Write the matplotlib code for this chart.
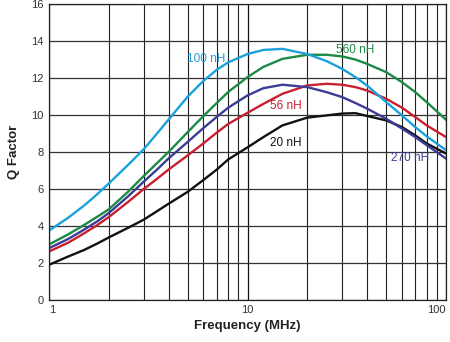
import matplotlib.pyplot as plt
from matplotlib.ticker import FixedLocator, NullFormatter

plt.rcParams['font.family'] = ['Liberation Sans', 'DejaVu Sans']

freq = [1, 1.25, 1.5, 1.75, 2, 2.5, 3, 3.5, 4, 5, 6, 7, 8, 10, 12, 15,
        20, 25, 30, 35, 40, 50, 60, 70, 80, 100]
q_100nh = [3.75, 4.45, 5.1, 5.72, 6.3, 7.3, 8.15, 9.0, 9.75, 11.0, 11.85, 12.45, 12.85, 13.3, 13.52, 13.58,
           13.3, 12.92, 12.5, 12.05, 11.6, 10.7, 9.98, 9.35, 8.85, 8.1]
q_560nh = [3.0, 3.55, 4.05, 4.5, 4.9, 5.85, 6.7, 7.4, 8.0, 9.08, 9.95, 10.65, 11.25, 12.05, 12.6, 13.04,
           13.26, 13.26, 13.17, 13.0, 12.77, 12.32, 11.78, 11.24, 10.7, 9.75]
q_270nh = [2.8, 3.3, 3.8, 4.25, 4.7, 5.6, 6.4, 7.05, 7.65, 8.55, 9.3, 9.9, 10.4, 11.06, 11.45, 11.64,
           11.51, 11.24, 10.97, 10.65, 10.35, 9.8, 9.27, 8.81, 8.37, 7.65]
q_56nh = [2.62, 3.1, 3.6, 4.05, 4.48, 5.3, 6.0, 6.55, 7.05, 7.82, 8.47, 9.05, 9.52, 10.12, 10.6, 11.15,
          11.6, 11.69, 11.64, 11.51, 11.33, 10.88, 10.4, 9.89, 9.44, 8.81]
q_20nh = [1.9, 2.35, 2.7, 3.05, 3.38, 3.9, 4.34, 4.8, 5.2, 5.85, 6.49, 7.05, 7.6, 8.25, 8.8, 9.44,
          9.86, 9.98, 10.08, 10.1, 9.95, 9.71, 9.35, 8.9, 8.46, 7.92]

fig = plt.figure(figsize=(4.5, 3.42), dpi=100)
ax = fig.add_axes([0.109, 0.123, 0.882, 0.865])

ax.set_xscale('log')
ax.set_xlim(1, 100)
ax.set_ylim(0, 16)
ax.set_yticks(range(0, 17, 2))
ax.set_xticks([1, 10, 100])
xl = ax.set_xticklabels(['1', '10', '100'])
xl[0].set_ha('left')
xl[-1].set_ha('right')
minors = [m * d for d in (1, 10) for m in range(2, 10)]
ax.xaxis.set_minor_locator(FixedLocator(minors))
ax.xaxis.set_minor_formatter(NullFormatter())
ax.tick_params(which='both', length=0, labelsize=8, colors='#333333', pad=4)

ax.grid(True, which='major', axis='x', color='#111111', lw=0.9)
ax.grid(True, which='minor', axis='x', color='#222222', lw=0.8)
ax.grid(True, which='major', axis='y', color='#333333', lw=0.9)
for s in ax.spines.values():
    s.set_color('#222222')
    s.set_linewidth(0.9)

ax.plot(freq, q_20nh, color='#111111', lw=1.7)
ax.plot(freq, q_56nh, color='#c8202e', lw=1.7)
ax.plot(freq, q_270nh, color='#3a3c96', lw=1.7)
ax.plot(freq, q_560nh, color='#1b8a45', lw=1.7)
ax.plot(freq, q_100nh, color='#1ba1dc', lw=1.7)

ax.text(6.2, 13.05, '100 nH', color='#1ba1dc', fontsize=8.5, ha='center', va='center')
ax.text(35, 13.5, '560 nH', color='#1b8a45', fontsize=8.5, ha='center', va='center')
ax.text(15.6, 10.5, '56 nH', color='#c8202e', fontsize=8.5, ha='center', va='center')
ax.text(15.6, 8.5, '20 nH', color='#111111', fontsize=8.5, ha='center', va='center')
ax.text(66, 7.65, '270 nH', color='#3a3c96', fontsize=8.5, ha='center', va='center')

ax.set_xlabel('Frequency (MHz)', fontsize=9.5, fontweight='bold', color='#222222', labelpad=3)
ax.set_ylabel('Q Factor', fontsize=9.5, fontweight='bold', color='#222222', labelpad=8)

fig.savefig('out.png', dpi=100)
